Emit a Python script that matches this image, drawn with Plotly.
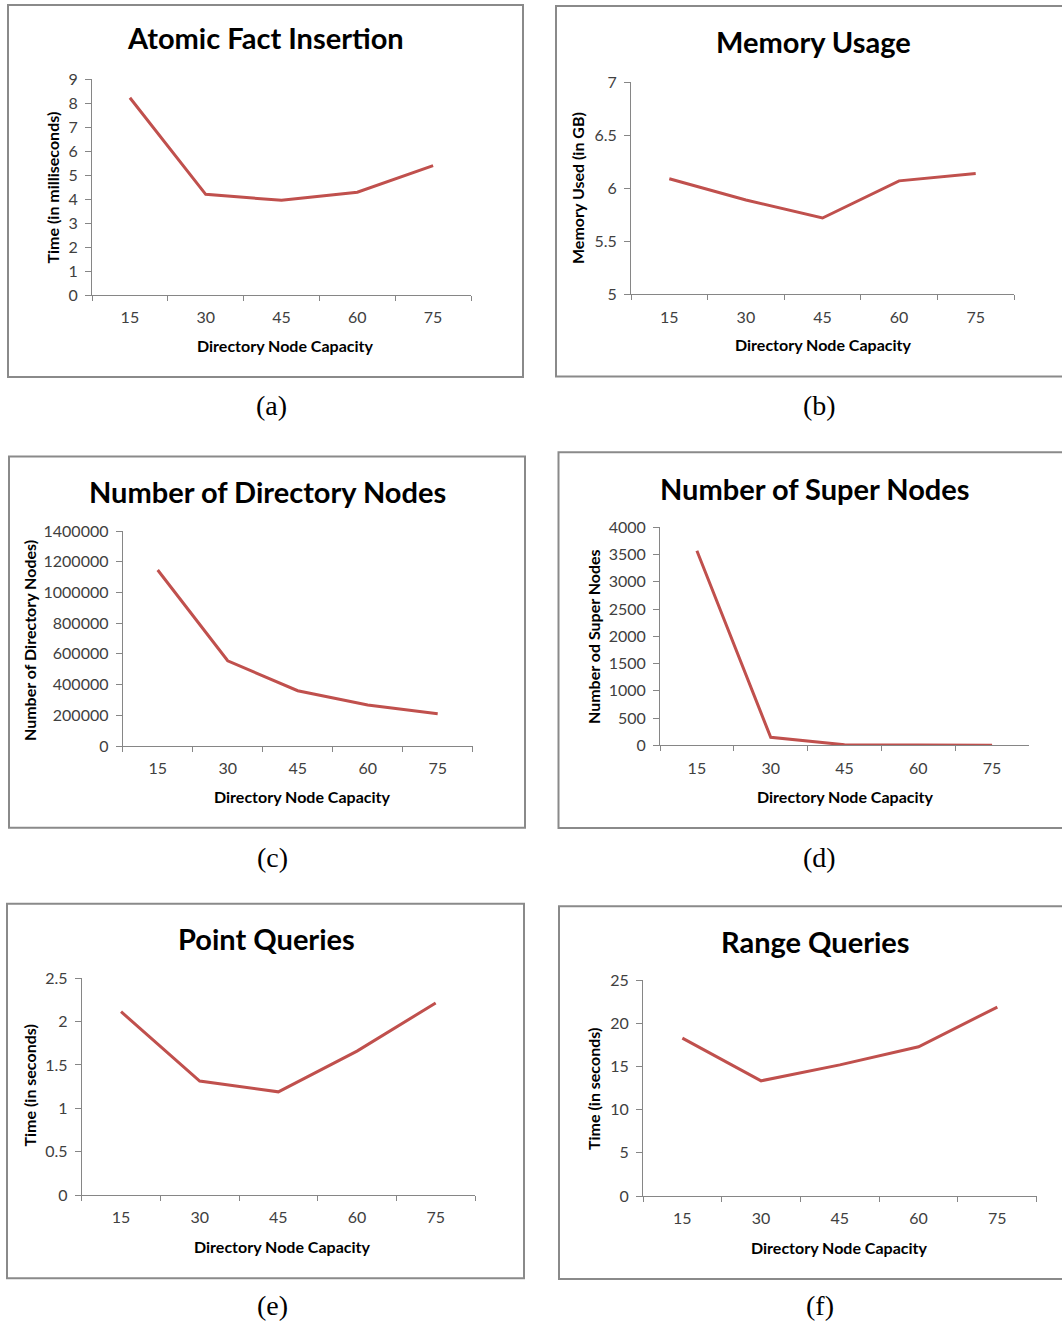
import plotly.graph_objects as go

# ---------------- data ----------------
capacity = ["15", "30", "45", "60", "75"]
insert_ms = [8.23, 4.20, 3.95, 4.29, 5.40]
memory_gb = [6.09, 5.89, 5.72, 6.07, 6.14]
dir_nodes = [1146000, 555000, 360000, 267000, 210000]
super_nodes = [3570, 147, 10, 4, 2]
point_s = [2.115, 1.315, 1.19, 1.66, 2.215]
range_s = [18.3, 13.35, 15.2, 17.3, 21.9]

titles = ["Atomic Fact Insertion", "Memory Usage", "Number of Directory Nodes",
          "Number of Super Nodes", "Point Queries", "Range Queries"]
ytitles = ["Time (in milliseconds)", "Memory Used (in GB)", "Number of Directory Nodes)",
           "Number od Super Nodes", "Time (in seconds)", "Time (in seconds)"]
xtitle = "Directory Node Capacity"
captions = ["(a)", "(b)", "(c)", "(d)", "(e)", "(f)"]
series = [insert_ms, memory_gb, dir_nodes, super_nodes, point_s, range_s]
yranges = [(0, 9, 1), (5, 7, 0.5), (0, 1400000, 200000), (0, 4000, 500), (0, 2.5, 0.5), (0, 25, 5)]

# ---------------- layout (pixel geometry) ----------------
W, H = 1062, 1322
# plot area: x0, x1, ytop, ybottom
plot_px = [(92, 471, 79.3, 295), (631, 1014, 82.3, 294.3), (122.7, 472.7, 531, 746),
           (660, 1029, 527.3, 745.3), (81.7, 475, 978.3, 1195), (643, 1036.7, 980.3, 1196)]
# border boxes: x0, x1, y0, y1
box_px = [(8, 523, 5, 377), (556, 1066, 6, 376.5), (9, 525, 456.5, 827.7),
          (558.5, 1066, 452.3, 828), (7, 524, 903.7, 1278.3), (559, 1066, 906.3, 1279)]
title_px = [(265, 38), (813, 42), (267, 491), (814.5, 488), (266, 938), (815, 941)]
xtitle_px = [(285, 345), (822.5, 344), (302, 796), (845, 796), (282, 1246), (839, 1247)]
ytitle_px = [(52, 187.5), (577, 188), (29, 641), (593, 637), (28.5, 1086), (593, 1089)]
cap_px = [(271, 405), (819, 405), (272, 857), (819, 857), (272, 1305), (820, 1305)]


def X(px):
    return px / W


def Y(py):
    return 1 - py / H


FONT = "Lato"
AX = "#868686"
TXT = "#404040"

fig = go.Figure()
layout = dict(width=W, height=H, autosize=False, margin=dict(l=0, r=0, t=0, b=0, pad=0),
              paper_bgcolor="white", plot_bgcolor="white", showlegend=False,
              annotations=[], shapes=[])

for i in range(6):
    n = "" if i == 0 else str(i + 1)
    fig.add_trace(go.Scatter(x=capacity, y=series[i], mode="lines",
                             line=dict(color="#C0504D", width=3),
                             xaxis="x" + n, yaxis="y" + n, hoverinfo="skip"))
    x0, x1, yt, yb = plot_px[i]
    lo, hi, dt = yranges[i]
    layout["xaxis" + n] = dict(domain=[X(x0), X(x1)], anchor="y" + n, type="category",
                               range=[-0.5, 4.5], showline=True, linecolor=AX, linewidth=1,
                               ticks="outside", ticklen=5, tickcolor=AX, tickson="boundaries",
                               showgrid=False, zeroline=False, ticklabelstandoff=8,
                               automargin=False,
                               tickfont=dict(family=FONT, size=16, color=TXT))
    layout["yaxis" + n] = dict(domain=[Y(yb), Y(yt)], anchor="x" + n, range=[lo, hi],
                               tick0=lo, dtick=dt, tickformat="d" if dt >= 1 else None,
                               showline=True, linecolor=AX, linewidth=1,
                               ticks="outside", ticklen=6, tickcolor=AX,
                               showgrid=False, zeroline=False, ticklabelstandoff=4,
                               automargin=False,
                               tickfont=dict(family=FONT, size=16, color=TXT))
    bx0, bx1, by0, by1 = box_px[i]
    layout["shapes"].append(dict(type="rect", xref="paper", yref="paper",
                                 x0=X(bx0), x1=X(bx1), y0=Y(by1), y1=Y(by0),
                                 line=dict(color="#8a8a8a", width=2), layer="below"))
    tx, ty = title_px[i]
    layout["annotations"].append(dict(text="<b>%s</b>" % titles[i], x=X(tx), y=Y(ty),
                                      xref="paper", yref="paper", showarrow=False,
                                      xanchor="center", yanchor="middle",
                                      font=dict(family=FONT, size=29, color="black")))
    ax_, ay_ = xtitle_px[i]
    layout["annotations"].append(dict(text="<b>%s</b>" % xtitle, x=X(ax_), y=Y(ay_),
                                      xref="paper", yref="paper", showarrow=False,
                                      xanchor="center", yanchor="middle",
                                      font=dict(family=FONT, size=16, color="black")))
    yx, yy = ytitle_px[i]
    layout["annotations"].append(dict(text="<b>%s</b>" % ytitles[i], x=X(yx), y=Y(yy),
                                      xref="paper", yref="paper", showarrow=False,
                                      textangle=-90, xanchor="center", yanchor="middle",
                                      font=dict(family=FONT, size=16, color="black")))
    cx, cy = cap_px[i]
    layout["annotations"].append(dict(text=captions[i], x=X(cx), y=Y(cy),
                                      xref="paper", yref="paper", showarrow=False,
                                      xanchor="center", yanchor="middle",
                                      font=dict(family="Liberation Serif", size=28, color="black")))

fig.update_layout(**layout)

post = ("document.documentElement.style.margin='0';"
        "document.documentElement.style.overflow='hidden';"
        "document.body.style.margin='0';"
        "document.body.style.overflow='hidden';"
        "var gd=document.getElementById('{plot_id}');"
        "gd.style.position='fixed';gd.style.top='0px';gd.style.left='0px';")
fig.write_html("out.html", config={"displayModeBar": False}, post_script=post)
